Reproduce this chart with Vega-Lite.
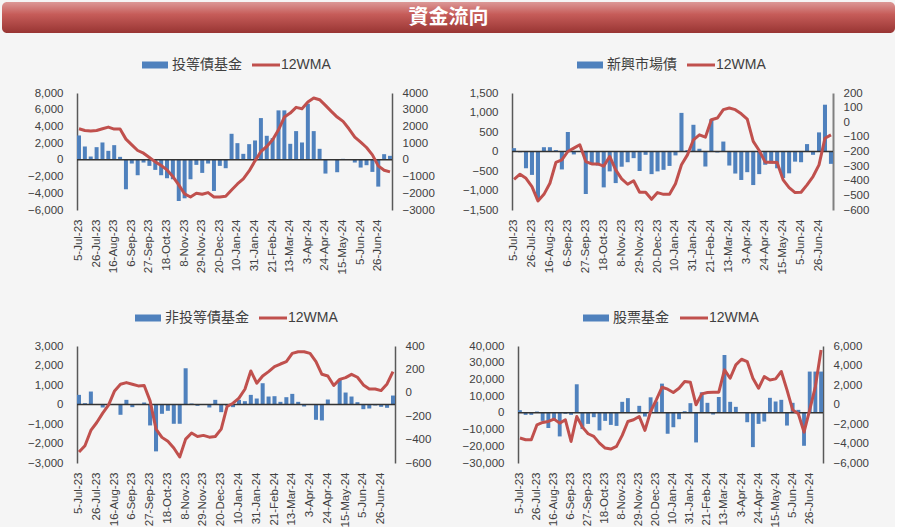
{
"$schema": "https://vega.github.io/schema/vega-lite/v6.json",
"background": "#f5f5f5",
"padding": {"left": 2, "top": 2, "right": 0, "bottom": 0},
"data": {"values": [
{"d":"5-Jul-23","a":2920,"am":1860,"b":86,"bm":-390,"c":494,"cm":-506,"e":1600,"em":-3440},
{"d":"12-Jul-23","a":1600,"am":1760,"b":-20,"bm":-355,"c":68,"cm":-452,"e":-1200,"em":-3610},
{"d":"19-Jul-23","a":400,"am":1720,"b":-430,"bm":-383,"c":665,"cm":-322,"e":-1200,"em":-3610},
{"d":"26-Jul-23","a":1520,"am":1760,"b":-600,"bm":-440,"c":0,"cm":-254,"e":800,"em":-2080},
{"d":"2-Aug-23","a":2080,"am":1860,"b":-1240,"bm":-538,"c":-153,"cm":-174,"e":-4800,"em":-1840},
{"d":"9-Aug-23","a":1080,"am":1960,"b":110,"bm":-493,"c":0,"cm":-103,"e":-9100,"em":-1740},
{"d":"16-Aug-23","a":1760,"am":1840,"b":110,"bm":-417,"c":0,"cm":16,"e":-4200,"em":-1500},
{"d":"23-Aug-23","a":360,"am":1840,"b":35,"bm":-275,"c":-528,"cm":73,"e":-14100,"em":-1910},
{"d":"30-Aug-23","a":-3520,"am":1240,"b":-460,"bm":-257,"c":239,"cm":87,"e":-600,"em":-1570},
{"d":"6-Sep-23","a":-440,"am":900,"b":500,"bm":-200,"c":-136,"cm":73,"e":-1200,"em":-3790},
{"d":"13-Sep-23","a":-1840,"am":560,"b":-75,"bm":-177,"c":30,"cm":59,"e":17100,"em":-1230},
{"d":"20-Sep-23","a":-320,"am":400,"b":-10,"bm":-154,"c":102,"cm":62,"e":-9700,"em":-2320},
{"d":"27-Sep-23","a":-720,"am":140,"b":-1090,"bm":-269,"c":-1074,"cm":-69,"e":-6600,"em":-3000},
{"d":"4-Oct-23","a":-1200,"am":-120,"b":-340,"bm":-285,"c":-2404,"cm":-310,"e":-2600,"em":-3270},
{"d":"11-Oct-23","a":-1840,"am":-340,"b":-360,"bm":-285,"c":-477,"cm":-381,"e":-10500,"em":-3960},
{"d":"18-Oct-23","a":-2200,"am":-600,"b":-920,"bm":-300,"c":-324,"cm":-415,"e":-4800,"em":-4470},
{"d":"25-Oct-23","a":-2320,"am":-1000,"b":-510,"bm":-234,"c":-989,"cm":-472,"e":-7200,"em":-4570},
{"d":"1-Nov-23","a":-4920,"am":-1500,"b":-810,"bm":-326,"c":-989,"cm":-549,"e":-7800,"em":-4300},
{"d":"8-Nov-23","a":-4600,"am":-2040,"b":-390,"bm":-387,"c":1858,"cm":-396,"e":6600,"em":-3170},
{"d":"15-Nov-23","a":-2320,"am":-2220,"b":-275,"bm":-424,"c":50,"cm":-344,"e":8800,"em":-1740},
{"d":"22-Nov-23","a":-600,"am":-2000,"b":-170,"bm":-400,"c":-68,"cm":-373,"e":0,"em":-1570},
{"d":"29-Nov-23","a":-1560,"am":-2060,"b":-500,"bm":-479,"c":-20,"cm":-364,"e":4200,"em":-1230},
{"d":"6-Dec-23","a":-440,"am":-1960,"b":-85,"bm":-479,"c":-153,"cm":-379,"e":-2200,"em":-2660},
{"d":"13-Dec-23","a":-3720,"am":-2220,"b":-580,"bm":-527,"c":239,"cm":-373,"e":9300,"em":-720},
{"d":"20-Dec-23","a":-720,"am":-2220,"b":-510,"bm":-481,"c":-392,"cm":-310,"e":6800,"em":480},
{"d":"27-Dec-23","a":-1000,"am":-2180,"b":-470,"bm":-493,"c":-68,"cm":-117,"e":17500,"em":1770},
{"d":"3-Jan-24","a":3120,"am":-1800,"b":-370,"bm":-493,"c":-136,"cm":-89,"e":-12500,"em":1570},
{"d":"10-Jan-24","a":2000,"am":-1440,"b":-100,"bm":-420,"c":239,"cm":-46,"e":-8600,"em":1230},
{"d":"17-Jan-24","a":720,"am":-1140,"b":990,"bm":-291,"c":170,"cm":30,"e":-3800,"em":1670},
{"d":"24-Jan-24","a":1880,"am":-660,"b":35,"bm":-223,"c":494,"cm":187,"e":1000,"em":2350},
{"d":"31-Jan-24","a":2320,"am":-60,"b":685,"bm":-120,"c":307,"cm":82,"e":5800,"em":2280},
{"d":"7-Feb-24","a":5000,"am":500,"b":70,"bm":-86,"c":1091,"cm":144,"e":-17700,"em":-30},
{"d":"14-Feb-24","a":2880,"am":800,"b":-385,"bm":-102,"c":409,"cm":181,"e":12300,"em":1090},
{"d":"21-Feb-24","a":2600,"am":1200,"b":830,"bm":17,"c":426,"cm":224,"e":6000,"em":1230},
{"d":"28-Feb-24","a":5920,"am":1800,"b":-25,"bm":29,"c":136,"cm":246,"e":-1000,"em":1260},
{"d":"6-Mar-24","a":5920,"am":2560,"b":255,"bm":86,"c":375,"cm":266,"e":9500,"em":1260},
{"d":"13-Mar-24","a":1920,"am":2800,"b":-360,"bm":97,"c":545,"cm":337,"e":34600,"em":3550},
{"d":"20-Mar-24","a":3440,"am":3140,"b":-565,"bm":86,"c":136,"cm":351,"e":6600,"em":2690},
{"d":"27-Mar-24","a":2080,"am":3060,"b":-730,"bm":58,"c":-102,"cm":351,"e":3600,"em":4060},
{"d":"3-Apr-24","a":6720,"am":3460,"b":-530,"bm":22,"c":17,"cm":337,"e":0,"em":4640},
{"d":"10-Apr-24","a":3440,"am":3700,"b":-860,"bm":-131,"c":-784,"cm":266,"e":-5600,"em":4400},
{"d":"17-Apr-24","a":1320,"am":3600,"b":-580,"bm":-193,"c":-818,"cm":158,"e":-20500,"em":2690},
{"d":"24-Apr-24","a":-1640,"am":3260,"b":-340,"bm":-273,"c":256,"cm":144,"e":-6600,"em":1670},
{"d":"1-May-24","a":30,"am":2900,"b":-310,"bm":-273,"c":0,"cm":62,"e":-5200,"em":2860},
{"d":"8-May-24","a":-1480,"am":2560,"b":-430,"bm":-275,"c":1262,"cm":115,"e":9000,"em":2520},
{"d":"15-May-24","a":120,"am":2300,"b":-680,"bm":-394,"c":614,"cm":130,"e":6800,"em":2630},
{"d":"22-May-24","a":50,"am":1860,"b":-560,"bm":-447,"c":409,"cm":158,"e":7800,"em":3380},
{"d":"29-May-24","a":-320,"am":1360,"b":-260,"bm":-481,"c":119,"cm":133,"e":-7600,"em":1500},
{"d":"5-Jun-24","a":-920,"am":1060,"b":-275,"bm":-479,"c":-239,"cm":67,"e":6000,"em":-550},
{"d":"12-Jun-24","a":-640,"am":740,"b":190,"bm":-428,"c":-205,"cm":33,"e":1800,"em":-950},
{"d":"19-Jun-24","a":-1440,"am":300,"b":-85,"bm":-371,"c":-51,"cm":33,"e":-19700,"em":-2830},
{"d":"26-Jun-24","a":-3200,"am":-360,"b":490,"bm":-291,"c":-119,"cm":19,"e":24700,"em":-550},
{"d":"3-Jul-24","a":680,"am":-620,"b":1200,"bm":-109,"c":-170,"cm":76,"e":24700,"em":1840},
{"d":"10-Jul-24","a":480,"am":-720,"b":-317,"bm":-86,"c":460,"cm":181,"e":24700,"em":5590}
]},
"vconcat": [
{
"width": 893, "height": 31,
"data": {"values": [{"t": "資金流向"}]},
"view": {"fill": {"gradient": "linear", "x1": 0, "y1": 0, "x2": 0, "y2": 1, "stops": [{"offset": 0, "color": "#dc9896"}, {"offset": 0.4, "color": "#c65c59"}, {"offset": 1, "color": "#983533"}]}, "stroke": null, "cornerRadius": 5},
"mark": {"type": "text", "color": "#ffffff", "fontSize": 20, "fontWeight": "bold", "font": "Noto Sans CJK TC"},
"encoding": {"text": {"field": "t", "type": "nominal"}}
},
{
"vconcat": [
{"hconcat": [
{"width": 1, "height": 1, "data": {"values": []}, "mark": "point"},
{
"width": 315, "height": 117,
"layer": [
{"layer": [
{"mark": {"type": "bar", "color": "#4f81bd"},
"encoding": {
"x": {"field": "d", "type": "ordinal", "sort": null, "scale": {"paddingInner": 0.32, "paddingOuter": 0}, "axis": {"values": ["5-Jul-23","26-Jul-23","16-Aug-23","6-Sep-23","27-Sep-23","18-Oct-23","8-Nov-23","29-Nov-23","20-Dec-23","10-Jan-24","31-Jan-24","21-Feb-24","13-Mar-24","3-Apr-24","24-Apr-24","15-May-24","5-Jun-24","26-Jun-24"], "labelAngle": -90, "domain": false, "ticks": false, "labelPadding": 9, "title": null}},
"y": {"field": "a", "type": "quantitative", "scale": {"domain": [-6000, 8000], "nice": false, "zero": false}, "axis": {"orient": "left", "values": [-6000,-4000,-2000,0,2000,4000,6000,8000], "format": ",d", "labelPadding": 14, "minExtent": 54, "title": null}},
"fill": {"datum": "投等債基金", "type": "nominal", "scale": {"range": ["#4f81bd"]}, "legend": {"orient": "none", "legendX": 63, "legendY": -35, "symbolType": "M-1,-0.7H4.2V0.7H-1Z", "symbolSize": 100, "symbolStrokeWidth": 0, "labelOffset": 18, "title": null}}
}},
{"data": {"values": [{}]}, "mark": {"type": "rule", "color": "#333333", "strokeWidth": 1.5}, "encoding": {"y": {"datum": 0, "type": "quantitative", "axis": {"orient": "left", "values": [-6000,-4000,-2000,0,2000,4000,6000,8000], "format": ",d", "labelPadding": 14, "minExtent": 54, "title": null}}}}
]},
{"mark": {"type": "line", "strokeWidth": 3, "strokeJoin": "round"},
"encoding": {
"x": {"field": "d", "type": "ordinal", "sort": null},
"y": {"field": "am", "type": "quantitative", "scale": {"domain": [-3000, 4000], "nice": false, "zero": false}, "axis": {"orient": "right", "values": [-3000,-2000,-1000,0,1000,2000,3000,4000], "format": "d", "labelPadding": 10, "minExtent": 45, "title": null}},
"stroke": {"datum": "12WMA", "type": "nominal", "scale": {"range": ["#c0504d"]}, "legend": {"orient": "none", "legendX": 173, "legendY": -35, "symbolType": "M-1,0H4.6", "symbolSize": 100, "symbolStrokeWidth": 3, "labelOffset": 17, "title": null}}
}}
],
"resolve": {"scale": {"y": "independent"}}
},
{
"width": 321, "height": 117,
"layer": [
{"layer": [
{"mark": {"type": "bar", "color": "#4f81bd"},
"encoding": {
"x": {"field": "d", "type": "ordinal", "sort": null, "scale": {"paddingInner": 0.32, "paddingOuter": 0}, "axis": {"values": ["5-Jul-23","26-Jul-23","16-Aug-23","6-Sep-23","27-Sep-23","18-Oct-23","8-Nov-23","29-Nov-23","20-Dec-23","10-Jan-24","31-Jan-24","21-Feb-24","13-Mar-24","3-Apr-24","24-Apr-24","15-May-24","5-Jun-24","26-Jun-24"], "labelAngle": -90, "domain": false, "ticks": false, "labelPadding": 9, "title": null}},
"y": {"field": "b", "type": "quantitative", "scale": {"domain": [-1500, 1500], "nice": false, "zero": false}, "axis": {"orient": "left", "values": [-1500,-1000,-500,0,500,1000,1500], "format": ",d", "labelPadding": 14, "minExtent": 55, "title": null}},
"fill": {"datum": "新興市場債", "type": "nominal", "scale": {"range": ["#4f81bd"]}, "legend": {"orient": "none", "legendX": 63, "legendY": -35, "symbolType": "M-1,-0.7H4.2V0.7H-1Z", "symbolSize": 100, "symbolStrokeWidth": 0, "labelOffset": 18, "title": null}}
}},
{"data": {"values": [{}]}, "mark": {"type": "rule", "color": "#333333", "strokeWidth": 1.5}, "encoding": {"y": {"datum": 0, "type": "quantitative", "axis": {"orient": "left", "values": [-1500,-1000,-500,0,500,1000,1500], "format": ",d", "labelPadding": 14, "minExtent": 55, "title": null}}}}
]},
{"mark": {"type": "line", "strokeWidth": 3, "strokeJoin": "round"},
"encoding": {
"x": {"field": "d", "type": "ordinal", "sort": null},
"y": {"field": "bm", "type": "quantitative", "scale": {"domain": [-600, 200], "nice": false, "zero": false}, "axis": {"orient": "right", "values": [-600,-500,-400,-300,-200,-100,0,100,200], "format": "d", "labelPadding": 10, "domainColor": "#808080", "domainWidth": 2, "title": null}},
"stroke": {"datum": "12WMA", "type": "nominal", "scale": {"range": ["#c0504d"]}, "legend": {"orient": "none", "legendX": 173, "legendY": -35, "symbolType": "M-1,0H4.6", "symbolSize": 100, "symbolStrokeWidth": 3, "labelOffset": 17, "title": null}}
}}
],
"resolve": {"scale": {"y": "independent"}}
}
], "spacing": 20, "resolve": {"scale": {"fill": "independent", "stroke": "independent"}}},
{"hconcat": [
{"width": 1, "height": 1, "data": {"values": []}, "mark": "point"},
{
"width": 318, "height": 117,
"layer": [
{"layer": [
{"mark": {"type": "bar", "color": "#4f81bd"},
"encoding": {
"x": {"field": "d", "type": "ordinal", "sort": null, "scale": {"paddingInner": 0.32, "paddingOuter": 0}, "axis": {"values": ["5-Jul-23","26-Jul-23","16-Aug-23","6-Sep-23","27-Sep-23","18-Oct-23","8-Nov-23","29-Nov-23","20-Dec-23","10-Jan-24","31-Jan-24","21-Feb-24","13-Mar-24","3-Apr-24","24-Apr-24","15-May-24","5-Jun-24","26-Jun-24"], "labelAngle": -90, "domain": false, "ticks": false, "labelPadding": 9, "title": null}},
"y": {"field": "c", "type": "quantitative", "scale": {"domain": [-3000, 3000], "nice": false, "zero": false}, "axis": {"orient": "left", "values": [-3000,-2000,-1000,0,1000,2000,3000], "format": ",d", "labelPadding": 14, "minExtent": 54, "title": null}},
"fill": {"datum": "非投等債基金", "type": "nominal", "scale": {"range": ["#4f81bd"]}, "legend": {"orient": "none", "legendX": 56, "legendY": -35, "symbolType": "M-1,-0.7H4.2V0.7H-1Z", "symbolSize": 100, "symbolStrokeWidth": 0, "labelOffset": 18, "title": null}}
}},
{"data": {"values": [{}]}, "mark": {"type": "rule", "color": "#333333", "strokeWidth": 1.5}, "encoding": {"y": {"datum": 0, "type": "quantitative", "axis": {"orient": "left", "values": [-3000,-2000,-1000,0,1000,2000,3000], "format": ",d", "labelPadding": 14, "minExtent": 54, "title": null}}}}
]},
{"mark": {"type": "line", "strokeWidth": 3, "strokeJoin": "round"},
"encoding": {
"x": {"field": "d", "type": "ordinal", "sort": null},
"y": {"field": "cm", "type": "quantitative", "scale": {"domain": [-600, 400], "nice": false, "zero": false}, "axis": {"orient": "right", "values": [-600,-400,-200,0,200,400], "format": "d", "labelPadding": 10, "minExtent": 45, "title": null}},
"stroke": {"datum": "12WMA", "type": "nominal", "scale": {"range": ["#c0504d"]}, "legend": {"orient": "none", "legendX": 180, "legendY": -35, "symbolType": "M-1,0H4.6", "symbolSize": 100, "symbolStrokeWidth": 3, "labelOffset": 17, "title": null}}
}}
],
"resolve": {"scale": {"y": "independent"}}
},
{
"width": 305, "height": 117,
"layer": [
{"layer": [
{"mark": {"type": "bar", "color": "#4f81bd"},
"encoding": {
"x": {"field": "d", "type": "ordinal", "sort": null, "scale": {"paddingInner": 0.32, "paddingOuter": 0}, "axis": {"values": ["5-Jul-23","26-Jul-23","16-Aug-23","6-Sep-23","27-Sep-23","18-Oct-23","8-Nov-23","29-Nov-23","20-Dec-23","10-Jan-24","31-Jan-24","21-Feb-24","13-Mar-24","3-Apr-24","24-Apr-24","15-May-24","5-Jun-24","26-Jun-24"], "labelAngle": -90, "domain": false, "ticks": false, "labelPadding": 9, "title": null}},
"y": {"field": "e", "type": "quantitative", "scale": {"domain": [-30000, 40000], "nice": false, "zero": false}, "axis": {"orient": "left", "values": [-30000,-20000,-10000,0,10000,20000,30000,40000], "format": ",d", "labelPadding": 14, "minExtent": 58, "title": null}},
"fill": {"datum": "股票基金", "type": "nominal", "scale": {"range": ["#4f81bd"]}, "legend": {"orient": "none", "legendX": 63, "legendY": -35, "symbolType": "M-1,-0.7H4.2V0.7H-1Z", "symbolSize": 100, "symbolStrokeWidth": 0, "labelOffset": 18, "title": null}}
}},
{"data": {"values": [{}]}, "mark": {"type": "rule", "color": "#333333", "strokeWidth": 1.5}, "encoding": {"y": {"datum": 0, "type": "quantitative", "axis": {"orient": "left", "values": [-30000,-20000,-10000,0,10000,20000,30000,40000], "format": ",d", "labelPadding": 14, "minExtent": 58, "title": null}}}}
]},
{"mark": {"type": "line", "strokeWidth": 3, "strokeJoin": "round"},
"encoding": {
"x": {"field": "d", "type": "ordinal", "sort": null},
"y": {"field": "em", "type": "quantitative", "scale": {"domain": [-6000, 6000], "nice": false, "zero": false}, "axis": {"orient": "right", "values": [-6000,-4000,-2000,0,2000,4000,6000], "format": ",d", "labelPadding": 10, "title": null}},
"stroke": {"datum": "12WMA", "type": "nominal", "scale": {"range": ["#c0504d"]}, "legend": {"orient": "none", "legendX": 160, "legendY": -35, "symbolType": "M-1,0H4.6", "symbolSize": 100, "symbolStrokeWidth": 3, "labelOffset": 17, "title": null}}
}}
],
"resolve": {"scale": {"y": "independent"}}
}
], "spacing": 20, "resolve": {"scale": {"fill": "independent", "stroke": "independent"}}}
], "spacing": 37, "resolve": {"scale": {"fill": "independent", "stroke": "independent"}}
}
],
"spacing": 25,
"resolve": {"scale": {"fill": "independent", "stroke": "independent"}},
"config": {
"font": "Liberation Sans, Noto Sans CJK TC",
"view": {"stroke": null},
"axis": {"labelFontSize": 11.5, "labelColor": "#404040", "grid": false, "labelFont": "Liberation Sans", "domainColor": "#595959", "domainWidth": 1.5, "labelOverlap": false},
"axisY": {"ticks": false},
"legend": {"labelFontSize": 14, "labelColor": "#404040", "labelFont": "Liberation Sans, Noto Sans CJK TC", "padding": 0}
}
}
